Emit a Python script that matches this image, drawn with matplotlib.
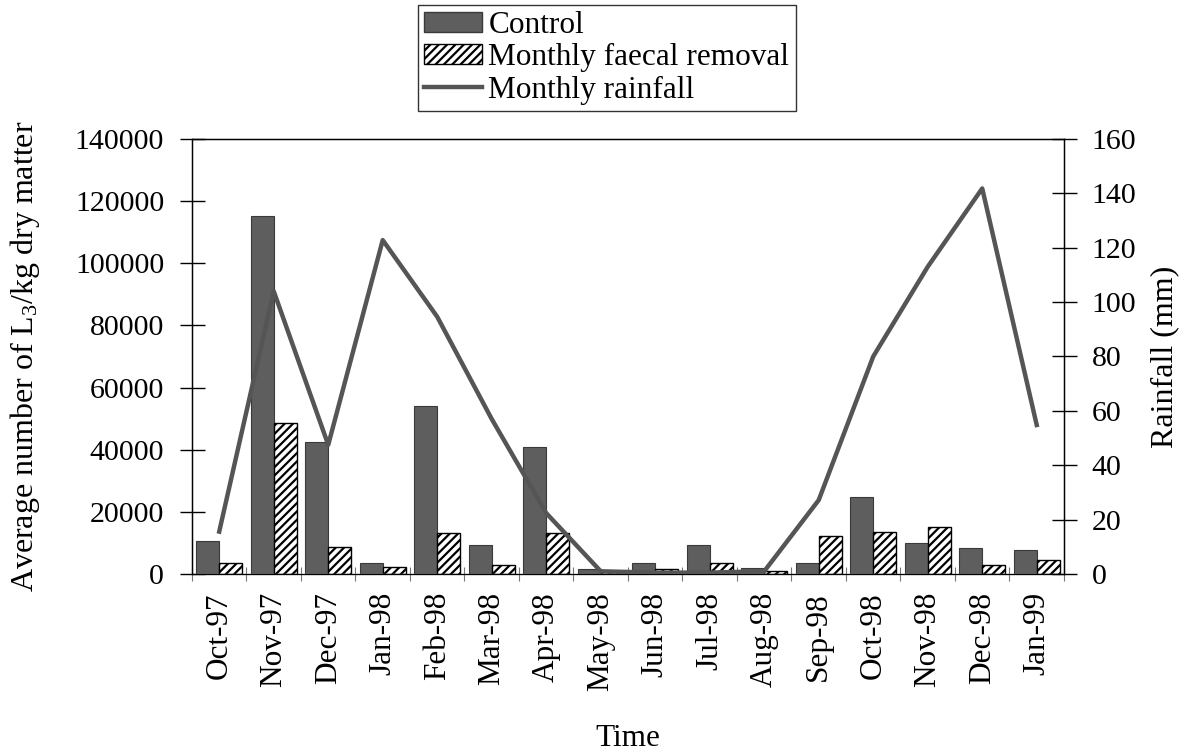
import matplotlib
matplotlib.use("Agg")
import matplotlib.pyplot as plt
import numpy as np
from matplotlib.patches import Patch
from matplotlib.lines import Line2D

plt.rcParams['font.family'] = ['Liberation Serif', 'DejaVu Serif']
plt.rcParams['mathtext.fontset'] = 'custom'
plt.rcParams['mathtext.rm'] = 'Liberation Serif'
plt.rcParams['mathtext.default'] = 'regular'
plt.rcParams['hatch.linewidth'] = 1.6

months = ["Oct-97", "Nov-97", "Dec-97", "Jan-98", "Feb-98", "Mar-98", "Apr-98", "May-98",
          "Jun-98", "Jul-98", "Aug-98", "Sep-98", "Oct-98", "Nov-98", "Dec-98", "Jan-99"]
control = [10500, 115200, 42600, 3500, 54000, 9300, 41000, 1500,
           3500, 9300, 1800, 3500, 24900, 10000, 8500, 7700]
faecal_removal = [3400, 48500, 8800, 2300, 13100, 2900, 13100, 700,
                  1500, 3400, 1000, 12200, 13400, 15000, 2900, 4500]
rainfall = [15.6, 104, 47.5, 122.8, 94.6, 57, 22.4, 1,
            0.5, 0.5, 1, 27.2, 80, 113, 141.8, 54.8]

fig = plt.figure(figsize=(11.88, 7.52), dpi=100)
ax = fig.add_axes([0.1616, 0.2367, 0.7340, 0.5785])
x = np.arange(len(months))
w = 0.42
ax.bar(x - w/2, control, w, color='#5e5e5e', edgecolor='#3a3a3a', linewidth=0.8, zorder=2)
ax.bar(x + w/2, faecal_removal, w, color='white', edgecolor='black', hatch='////', linewidth=1.0, zorder=2)
ax.set_xlim(-0.5, len(months) - 0.5)
ax.set_ylim(0, 140000)
ax.set_yticks(np.arange(0, 140001, 20000))
ax.set_xticks(x)
ax.set_xticklabels(months, rotation=90, fontsize=22.5)
ax.set_xticks(np.arange(-0.5, len(months), 1), minor=True)
ax.tick_params(axis='x', which='major', length=0, pad=13)
ax.tick_params(axis='x', which='minor', direction='inout', length=10, width=0.8, color='#777777')
ax.tick_params(axis='y', direction='inout', length=18, width=1.0, labelsize=21.5, pad=11)
for s in ['left', 'top', 'bottom', 'right']:
    ax.spines[s].set_linewidth(1.0)
ax.spines['bottom'].set_color('#777777')
ax.set_ylabel(r"Average number of L$_3$/kg dry matter", fontsize=23)
ax.yaxis.set_label_coords(-0.172, 0.5)
ax.set_xlabel("Time", fontsize=22.5)
ax.xaxis.set_label_coords(0.5, -0.345)

ax2 = ax.twinx()
ax2.plot(x, rainfall, color='#555555', linewidth=3.2, zorder=3)
ax2.set_ylim(0, 160)
ax2.set_yticks(np.arange(0, 161, 20))
ax2.tick_params(axis='y', direction='inout', length=18, width=1.0, labelsize=21.5, pad=11)
ax2.set_ylabel("Rainfall (mm)", fontsize=23, labelpad=10)

handles = [Patch(facecolor='#5e5e5e', edgecolor='#3a3a3a'),
           Patch(facecolor='white', edgecolor='black', hatch='////'),
           Line2D([0], [0], color='#555555', linewidth=3.2)]
labels = ["Control", "Monthly faecal removal", "Monthly rainfall"]
leg = fig.legend(handles, labels, loc='upper left', bbox_to_anchor=(418/1188, 1 - 5/752),
                 fontsize=22.5, frameon=True, fancybox=False, edgecolor='black',
                 handlelength=1.85, handleheight=0.6, handletextpad=0.2, labelspacing=0.1,
                 borderpad=0.2, borderaxespad=0)
leg.get_frame().set_linewidth(1.0)

fig.savefig("out.png", dpi=100)
